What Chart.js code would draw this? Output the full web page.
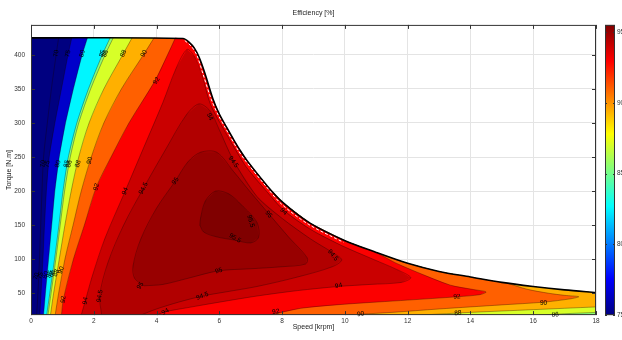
<!DOCTYPE html>
<html>
<head>
<meta charset="utf-8">
<script src="https://cdn.jsdelivr.net/npm/chart.js@4.4.1/dist/chart.umd.min.js"></script>
<style>
  html, body { margin: 0; padding: 0; background: #fff; }
</style>
</head>
<body>
<canvas id="map" width="622" height="340"></canvas>
<script>
// axes
const speedTicks = [0, 2, 4, 6, 8, 10, 12, 14, 16, 18];
const torqueTicks = [50, 100, 150, 200, 250, 300, 350, 400];
const colorTicks = [75, 80, 85, 90, 95];
const colorLimits = [75, 95.5];

// max torque curve, [krpm, N.m]
const envelope = [[0,425],[4.84,424],[5.05,418],[5.2,410],[5.35,397],[5.54,373],[5.8,335],[6.0,313],[6.24,293],[6.45,276],[6.66,260],[6.91,243],[7.52,208],[8.03,183],[8.89,153],[9.97,128],[11,110],[12,94],[13,82],[14,74],[15,66],[16,60],[17,55],[18,51]];
const limitDashed = [[4.9,421],[5.1,413],[5.28,400],[5.48,372],[5.74,335],[5.95,313],[6.19,293],[6.6,260],[6.86,243],[7.47,208],[7.98,181],[8.85,151],[9.95,125]];

// iso-efficiency lines, [krpm, N.m]
const iso70 = [[0.18,18],[0.22,50],[0.27,100],[0.31,150],[0.35,200],[0.40,250],[0.52,300],[0.65,350],[0.80,400],[0.88,425]];
const iso75 = [[0.28,18],[0.32,50],[0.38,100],[0.43,150],[0.49,200],[0.58,250],[0.76,300],[0.97,350],[1.18,400],[1.30,425]];
const iso80 = [[0.40,18],[0.46,50],[0.56,100],[0.66,150],[0.76,200],[0.90,250],[1.10,300],[1.35,350],[1.63,400],[1.80,425]];
const iso85 = [[0.50,18],[0.60,50],[0.75,100],[0.89,150],[1.02,200],[1.19,250],[1.46,300],[1.83,350],[2.27,400],[2.52,425]];
const iso86 = [[0.54,18],[0.64,50],[0.79,100],[0.93,150],[1.07,200],[1.25,250],[1.52,300],[1.90,350],[2.36,400],[2.62,425]];
const iso88 = [[0.62,18],[0.72,50],[0.90,100],[1.08,150],[1.28,200],[1.52,250],[1.85,300],[2.32,350],[2.92,400],[3.22,425]];
const iso90 = [[0.77,18],[0.88,50],[1.08,100],[1.34,150],[1.60,200],[1.92,250],[2.32,300],[2.88,350],[3.58,400],[3.92,425]];
const iso92 = [[0.97,18],[1.03,41],[1.35,100],[1.70,150],[2.08,206],[2.55,250],[3.12,300],[3.95,362],[4.35,400],[4.60,425]];
const iso86Right = [[18,22],[17,20],[16.2,18]];
const iso88Right = [[18,30],[17,28],[16,26],[15,24],[14,22],[13,19.5],[12.4,18]];
const iso90Right = [[15.2,64.5],[15.8,56],[16.5,50],[17,47],[17.45,45],[17.2,42],[16.33,37],[15,33],[13,27],[11.5,22],[10,18]];
const iso92Right = [[11,110],[11.6,95],[12.3,81],[13.36,62],[14.1,55.5],[14.5,52],[14.3,48],[13.6,45],[12,40],[10,34],[8.6,28],[7.6,18]];
const iso94 = [[1.60,18],[1.73,39],[1.95,75],[2.35,130],[3.00,200],[3.60,265],[4.20,330],[4.62,380],[4.97,408],[5.20,398],[5.45,370],[5.72,327],[6.20,286],[6.85,236],[7.50,200],[8.05,172],[8.90,144],[9.90,120],[10.9,100],[11.7,84],[12.1,73],[11.8,66],[10.8,63],[9.8,60],[8.5,54],[7.2,46],[6.0,37],[5.0,29],[4.28,23],[4.0,18]];
const iso945 = [[2.25,18],[2.19,47],[2.45,95],[2.95,150],[3.58,204],[4.30,262],[4.95,312],[5.35,328],[5.70,318],[6.00,290],[6.45,245],[7.20,192],[8.00,160],[8.90,130],[9.60,110],[9.90,99],[9.60,89],[8.50,74],[7.20,60],[6.20,52],[5.46,46],[4.70,37],[4.00,27],[3.50,18]];
const iso95 = [[3.60,61],[3.30,72],[3.25,90],[3.50,130],[4.00,175],[4.60,215],[5.00,243],[5.40,257],[5.92,257],[6.45,229],[7.00,198],[7.57,167],[8.20,133],[8.80,102],[8.75,93],[8.00,89],[7.00,86],[5.97,83],[5.00,72],[4.20,63],[3.60,61]];
const iso955 = [[5.38,150],[5.40,160],[5.55,185],[5.88,200],[6.30,196],[6.70,180],[7.20,154],[7.25,132],[7.00,124],[6.50,128],[5.90,133],[5.50,140],[5.38,150]];

const levels = [70, 75, 80, 85, 86, 88, 90, 92, 94, 94.5, 95, 95.5];

// contour labels
const labelText   = ['70','75','80','85','86','88','90','92',
                     '70','75','80','85','86','88','90','92','94','94.5','95',
                     '70','75','80','85','86','88','90',
                     '92','94','94.5','94','94.5','95','95','92','90','88','92','90','94','86',
                     '94','94.5','95','94','95.5','95.5','94.5'];
const labelSpeed  = [0.80,1.18,1.63,2.27,2.37,2.94,3.60,4.00,
                     0.38,0.52,0.86,1.14,1.22,1.50,1.87,2.08,3.00,3.58,4.60,
                     0.17,0.30,0.47,0.60,0.67,0.80,0.96,
                     1.03,1.73,2.19,4.28,5.46,3.48,5.98,7.80,10.5,13.6,13.57,16.33,9.80,16.7,
                     5.70,6.45,7.57,8.05,7.00,6.50,9.62];
const labelTorque = [402,402,402,402,402,402,402,362,
                     240,240,240,240,240,240,245,206,200,204,215,
                     75,76,77,78,79,80,84,
                     41,39,46,23,46,61,83,23,19.5,21,45,36,61,18.5,
                     309,243,166,170,156,131,106];
const labelTilt   = [-82,-78,-75,-70,-70,-65,-60,-57,
                     -82,-80,-76,-75,-75,-74,-74,-72,-68,-62,-56,
                     -70,-70,-70,-70,-70,-70,-70,
                     -80,-80,-80,-30,-20,-55,-15,-10,-5,-5,-3,0,-10,-3,
                     65,55,50,45,75,30,50];

// where inside each band its flat colour is taken (0 = lower level, 1 = upper level)
const bandShade = [0.5, 0.3, 0.5, 0.5, 0.5, 0.7, 0.5, 0.5, 0, 0, 0, 0];

function jet(t) {
  const c = v => Math.max(0, Math.min(1, v));
  return [c(1.5 - Math.abs(4 * t - 3)), c(1.5 - Math.abs(4 * t - 2)), c(1.5 - Math.abs(4 * t - 1))];
}
function colorOf(v) {
  let t = (v - colorLimits[0]) / (colorLimits[1] - colorLimits[0]);
  t = Math.max(0, Math.min(1, t));
  const [r, g, b] = jet(t);
  return 'rgb(' + Math.round(r * 255) + ',' + Math.round(g * 255) + ',' + Math.round(b * 255) + ')';
}

const BOT = 10;
function envBetween(s0, s1) { return envelope.filter(p => p[0] > s0 && p[0] < s1); }
function area(left, right) {
  const top = left[left.length - 1][0];
  const poly = [[left[0][0], BOT], ...left];
  if (right) {
    const start = right[0][0];
    poly.push(...envBetween(top, start >= 18 ? 99 : start), ...right, [right[right.length - 1][0], BOT]);
  } else {
    poly.push(...envBetween(top, 99), [18, BOT]);
  }
  return poly;
}
function footed(line) { return [[line[0][0], BOT], ...line, [line[line.length - 1][0], BOT]]; }

const regions = [
  area(iso70), area(iso75), area(iso80), area(iso85), area(iso86, iso86Right),
  area(iso88, iso88Right), area(iso90, iso90Right), area(iso92, iso92Right),
  footed(iso94), footed(iso945), iso95, iso955
];
const isolines = [iso70, iso75, iso80, iso85, iso86, iso88, iso90, iso92, iso86Right, iso88Right,
                  iso90Right, iso92Right, iso94, iso945, iso95, iso955];

const xy = list => list.map(p => ({x: p[0], y: p[1]}));
const datasets = [];
datasets.push({data: xy([[0, BOT], ...envelope, [18, BOT]]), fill: 'shape', backgroundColor: colorOf(70),
               borderWidth: 0, pointRadius: 0, tension: 0, order: 100});
regions.forEach((poly, i) => {
  const lo = levels[i];
  const hi = i < levels.length - 1 ? levels[i + 1] : colorLimits[1];
  datasets.push({data: xy(poly), fill: 'shape', backgroundColor: colorOf(lo + bandShade[i] * (hi - lo)),
                 borderWidth: 0, pointRadius: 0, tension: 0, order: 99 - i});
});
isolines.forEach(line => {
  datasets.push({data: xy(line), fill: false, borderColor: 'rgba(20,0,0,0.55)', borderWidth: 0.6,
                 pointRadius: 0, tension: 0.3, order: 10});
});
datasets.push({data: xy(envelope), fill: false, borderColor: '#000', borderWidth: 1.6, pointRadius: 0, tension: 0.3, order: 2});
datasets.push({data: xy(limitDashed), fill: false, borderColor: '#fff', borderWidth: 1, borderDash: [3, 2],
               pointRadius: 0, tension: 0.3, order: 1});

const frame = {
  id: 'frame',
  afterDatasetsDraw(chart) {
    const {ctx, chartArea: a, scales: {x, y}} = chart;
    ctx.save();
    ctx.strokeStyle = '#333';
    ctx.lineWidth = 1;
    ctx.strokeRect(a.left + 0.5, a.top + 0.5, a.right - a.left - 1, a.bottom - a.top - 1);
    ctx.beginPath();
    speedTicks.forEach(v => {
      const px = Math.round(x.getPixelForValue(v)) + 0.5;
      ctx.moveTo(px, a.top); ctx.lineTo(px, a.top + 4);
      ctx.moveTo(px, a.bottom); ctx.lineTo(px, a.bottom - 4);
    });
    torqueTicks.forEach(v => {
      const py = Math.round(y.getPixelForValue(v)) + 0.5;
      ctx.moveTo(a.left, py); ctx.lineTo(a.left + 4, py);
      ctx.moveTo(a.right, py); ctx.lineTo(a.right - 4, py);
    });
    ctx.stroke();
    ctx.restore();
  }
};

const isoLabels = {
  id: 'isoLabels',
  afterDatasetsDraw(chart) {
    const {ctx, scales: {x, y}} = chart;
    ctx.save();
    ctx.font = '6.5px "Liberation Sans", Arial, sans-serif';
    ctx.fillStyle = '#000';
    ctx.textAlign = 'center';
    ctx.textBaseline = 'middle';
    labelText.forEach((txt, i) => {
      ctx.save();
      ctx.translate(x.getPixelForValue(labelSpeed[i]), y.getPixelForValue(labelTorque[i]));
      ctx.rotate(labelTilt[i] * Math.PI / 180);
      ctx.fillText(txt, 0, 0);
      ctx.restore();
    });
    ctx.restore();
  }
};

const colorbar = {
  id: 'colorbar',
  afterDraw(chart) {
    const {ctx} = chart;
    const s = chart.scales.cbar;
    const top = s.getPixelForValue(colorLimits[1]);
    const bottom = s.getPixelForValue(colorLimits[0]);
    const x0 = s.left + 9, w = 10;
    const g = ctx.createLinearGradient(0, bottom, 0, top);
    for (let i = 0; i <= 32; i++) {
      const [r, gg, b] = jet(i / 32);
      g.addColorStop(i / 32, 'rgb(' + Math.round(r * 255) + ',' + Math.round(gg * 255) + ',' + Math.round(b * 255) + ')');
    }
    ctx.save();
    ctx.fillStyle = g;
    ctx.fillRect(x0, top, w, bottom - top);
    ctx.strokeStyle = '#333';
    ctx.lineWidth = 1;
    ctx.strokeRect(x0 + 0.5, top + 0.5, w - 1, bottom - top - 1);
    ctx.beginPath();
    colorTicks.forEach(v => {
      const py = Math.round(s.getPixelForValue(v)) + 0.5;
      ctx.moveTo(x0, py); ctx.lineTo(x0 + 2, py);
      ctx.moveTo(x0 + w, py); ctx.lineTo(x0 + w - 2, py);
    });
    ctx.stroke();
    ctx.restore();
  }
};

Chart.defaults.font.family = '"Liberation Sans", Arial, sans-serif';

new Chart(document.getElementById('map'), {
  type: 'line',
  data: {datasets: datasets},
  options: {
    responsive: false,
    animation: false,
    events: [],
    layout: {padding: 0},
    plugins: {
      legend: {display: false},
      tooltip: {enabled: false},
      title: {display: true, text: 'Efficiency [%]', color: '#222', fullSize: false,
              font: {size: 7, weight: 'normal'}, padding: {top: 6, bottom: 7.6}}
    },
    scales: {
      x: {
        type: 'linear', min: 0, max: 18,
        afterBuildTicks: s => { s.ticks = speedTicks.map(v => ({value: v})); },
        afterFit: s => { s.height = 18; },
        grid: {color: '#e4e4e4', drawTicks: false},
        border: {display: false},
        ticks: {padding: 2, color: '#333', font: {size: 6.5}, maxRotation: 0, autoSkip: false},
        title: {display: true, text: 'Speed [krpm]', color: '#222', font: {size: 7}, padding: {top: 0, bottom: 1.5}}
      },
      y: {
        type: 'linear', min: 18, max: 444,
        afterBuildTicks: s => { s.ticks = torqueTicks.map(v => ({value: v})); },
        afterFit: s => { s.width = 31; },
        grid: {color: '#e4e4e4', drawTicks: false},
        border: {display: false},
        ticks: {padding: 6, color: '#333', font: {size: 6.5}},
        title: {display: true, text: 'Torque [N.m]', color: '#222', font: {size: 7}, padding: {top: 4.5, bottom: 0}}
      },
      cbar: {
        type: 'linear', position: 'right', min: colorLimits[0], max: colorLimits[1],
        afterBuildTicks: s => { s.ticks = colorTicks.map(v => ({value: v})); },
        afterFit: s => { s.width = 26; },
        grid: {display: false, drawTicks: false},
        border: {display: false},
        ticks: {padding: 21, color: '#333', font: {size: 6.5}}
      }
    }
  },
  plugins: [frame, isoLabels, colorbar]
});
</script>
</body>
</html>
